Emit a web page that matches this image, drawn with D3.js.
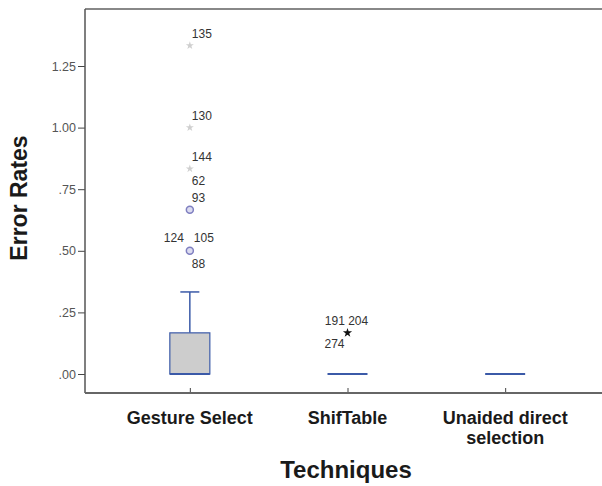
<!DOCTYPE html>
<html>
<head>
<meta charset="utf-8">
<script src="https://cdn.jsdelivr.net/npm/d3@7"></script>
<style>
  body { margin: 0; background: #fff; }
  svg { font-family: "Liberation Sans", Arial, sans-serif; }
</style>
</head>
<body>
<div id="chart"></div>
<script>
// categories and box statistics
const categories = ["Gesture Select", "ShifTable", "Unaided direct selection"];
const q1Values = [0, 0, 0];
const medianValues = [0, 0, 0];
const q3Values = [0.167, 0, 0];
const whiskerLow = [0, 0, 0];
const whiskerHigh = [0.333, 0, 0];
const yTicks = [0, 0.25, 0.5, 0.75, 1.0, 1.25];

// outliers (circles) and extremes (stars), with case numbers
const outlierPoints = [
  { cat: "Gesture Select", value: 1.333, kind: "extreme", labels: ["135"] },
  { cat: "Gesture Select", value: 1.0, kind: "extreme", labels: ["130"] },
  { cat: "Gesture Select", value: 0.833, kind: "extreme", labels: ["144", "62"] },
  { cat: "Gesture Select", value: 0.667, kind: "outlier", labels: ["93"] },
  { cat: "Gesture Select", value: 0.5, kind: "outlier", labels: ["124", "105", "88"] },
  { cat: "ShifTable", value: 0.167, kind: "star", labels: ["191 204", "274"] }
];

const W = 602, H = 486;
const conf = { ml: 85, mt: 9, right: 610, bottom: 393 };

const svg = d3.select("#chart").append("svg")
  .attr("width", W).attr("height", H);

const x = d3.scalePoint().domain(categories)
  .range([conf.ml, conf.right]).padding(0.665);
const y = d3.scaleLinear().domain([0, 1.25])
  .range([374, 66]);

// frame
svg.append("line").attr("x1", conf.ml).attr("x2", W).attr("y1", conf.mt).attr("y2", conf.mt)
  .attr("stroke", "#888").attr("stroke-width", 2);

const yAxis = svg.append("g").attr("transform", `translate(${conf.ml},0)`)
  .call(d3.axisLeft(y).tickValues(yTicks).tickSize(7).tickPadding(2)
    .tickFormat(d => d3.format(".2f")(d).replace(/^0/, "")));
yAxis.select(".domain").remove();
yAxis.append("line").attr("x1", 0).attr("x2", 0).attr("y1", conf.mt).attr("y2", conf.bottom)
  .attr("stroke", "#555").attr("stroke-width", 1.5);
yAxis.selectAll(".tick line").attr("stroke", "#444");
yAxis.selectAll(".tick text").attr("font-size", 12.5).attr("fill", "#555");

const xAxis = svg.append("g").attr("transform", `translate(0,${conf.bottom})`)
  .call(d3.axisBottom(x).tickSize(-5).tickFormat(""));
xAxis.select(".domain").remove();
xAxis.append("line").attr("x1", conf.ml).attr("x2", W).attr("y1", 0).attr("y2", 0)
  .attr("stroke", "#666").attr("stroke-width", 2);
xAxis.selectAll(".tick line").attr("stroke", "#444");

// category labels
const catLines = { "Unaided direct selection": ["Unaided direct", "selection"] };
categories.forEach(c => {
  const lines = catLines[c] || [c];
  const t = svg.append("text").attr("x", x(c)).attr("y", 424)
    .attr("text-anchor", "middle").attr("font-size", 18).attr("font-weight", "bold").attr("fill", "#1a1a1a");
  lines.forEach((l, i) => t.append("tspan").attr("x", x(c)).attr("dy", i ? 20 : 0).text(l));
});

// axis titles
svg.append("text").attr("x", 346).attr("y", 478).attr("text-anchor", "middle")
  .attr("font-size", 24).attr("font-weight", "bold").attr("fill", "#1a1a1a").text("Techniques");
svg.append("text").attr("transform", "translate(27,198) rotate(-90)").attr("text-anchor", "middle")
  .attr("font-size", 23).attr("font-weight", "bold").attr("fill", "#1a1a1a").text("Error Rates");

// boxes
const boxW = 40, capW = 19;
const blue = "#3b5aa8";
categories.forEach((c, i) => {
  const cx = x(c);
  const g = svg.append("g");
  if (whiskerHigh[i] > q3Values[i]) {
    g.append("line").attr("x1", cx).attr("x2", cx).attr("y1", y(q3Values[i])).attr("y2", y(whiskerHigh[i]))
      .attr("stroke", blue).attr("stroke-width", 1.5);
    g.append("line").attr("x1", cx - capW / 2).attr("x2", cx + capW / 2)
      .attr("y1", y(whiskerHigh[i])).attr("y2", y(whiskerHigh[i]))
      .attr("stroke", blue).attr("stroke-width", 1.5);
  }
  if (q3Values[i] > q1Values[i]) {
    g.append("rect").attr("x", cx - boxW / 2).attr("width", boxW)
      .attr("y", y(q3Values[i])).attr("height", y(q1Values[i]) - y(q3Values[i]))
      .attr("fill", "#cdcdcd").attr("stroke", blue).attr("stroke-width", 1.2);
  }
  g.append("line").attr("x1", cx - boxW / 2).attr("x2", cx + boxW / 2)
    .attr("y1", y(medianValues[i])).attr("y2", y(medianValues[i]))
    .attr("stroke", blue).attr("stroke-width", 2);
});

// outlier marks and case labels
const star = d3.symbol().type(d3.symbolStar);
outlierPoints.forEach(p => {
  const px = x(p.cat), py = y(p.value);
  if (p.kind === "outlier") {
    svg.append("circle").attr("cx", px).attr("cy", py).attr("r", 3.5)
      .attr("fill", "#dcdcf0").attr("stroke", "#7f7fc0").attr("stroke-width", 1.5);
  } else if (p.kind === "extreme") {
    svg.append("path").attr("d", star.size(20)()).attr("transform", `translate(${px},${py})`)
      .attr("fill", "#cfcfcf");
  } else {
    svg.append("path").attr("d", star.size(26)()).attr("transform", `translate(${px},${py})`)
      .attr("fill", "#111");
  }
  const n = p.labels.length;
  const lab = (txt, dx, dy, anchor) => svg.append("text").attr("x", px + dx).attr("y", py + dy)
    .attr("text-anchor", anchor).attr("font-size", 12).attr("fill", "#333").text(txt);
  if (p.kind === "star") {
    lab(p.labels[0], -1, -8, "middle");
    lab(p.labels[1], -3, 15, "end");
  } else if (n === 3) {
    lab(p.labels[0], -6, -9, "end");
    lab(p.labels[1], 4, -9, "start");
    lab(p.labels[2], 2, 17, "start");
  } else {
    lab(p.labels[0], 2, -8, "start");
    if (n === 2) lab(p.labels[1], 2, 16, "start");
  }
});
</script>
</body>
</html>
